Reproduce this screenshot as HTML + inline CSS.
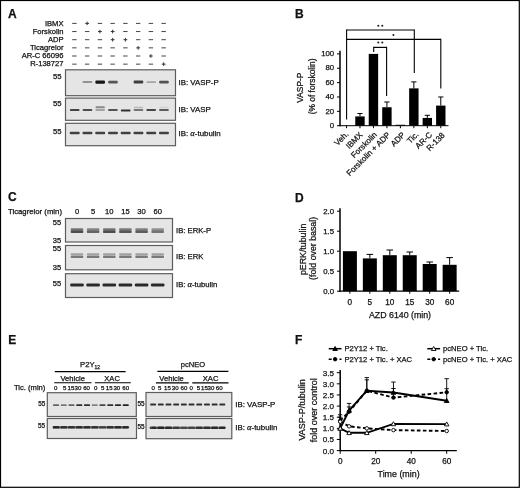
<!DOCTYPE html>
<html><head><meta charset="utf-8"><style>
html,body{margin:0;padding:0;background:#fff;}
#wrap{position:relative;width:520px;height:488px;overflow:hidden;background:#fff;}
svg{position:absolute;left:0;top:0;will-change:transform;}
svg text{font-family:"Liberation Sans", sans-serif;fill:#111;stroke:#111;stroke-width:0.25px;}
</style></head><body><div id="wrap">
<svg width="520" height="488" viewBox="0 0 520 488">
<defs><filter id="bl" x="-30%" y="-100%" width="160%" height="300%"><feGaussianBlur stdDeviation="0.7"/></filter></defs>
<rect x="0.5" y="0.5" width="518.8" height="486.8" fill="none" stroke="#000" stroke-width="1.2"/>
<text x="8" y="17.6" font-size="12" text-anchor="start" font-weight="bold" >A</text>
<text x="63.5" y="25.5" font-size="7.6" text-anchor="end" font-weight="normal" >IBMX</text>
<line x1="72.2" y1="23.4" x2="76.60000000000001" y2="23.4" stroke="#444" stroke-width="1.0" />
<line x1="85.25" y1="23.4" x2="89.05000000000001" y2="23.4" stroke="#333" stroke-width="1.0" />
<line x1="87.15" y1="21.599999999999998" x2="87.15" y2="25.2" stroke="#333" stroke-width="1.0" />
<line x1="97.7" y1="23.4" x2="102.10000000000001" y2="23.4" stroke="#444" stroke-width="1.0" />
<line x1="110.45" y1="23.4" x2="114.85000000000001" y2="23.4" stroke="#444" stroke-width="1.0" />
<line x1="123.2" y1="23.4" x2="127.60000000000001" y2="23.4" stroke="#444" stroke-width="1.0" />
<line x1="135.95000000000002" y1="23.4" x2="140.35" y2="23.4" stroke="#444" stroke-width="1.0" />
<line x1="148.70000000000002" y1="23.4" x2="153.1" y2="23.4" stroke="#444" stroke-width="1.0" />
<line x1="161.45000000000002" y1="23.4" x2="165.85" y2="23.4" stroke="#444" stroke-width="1.0" />
<text x="63.5" y="33.62" font-size="7.6" text-anchor="end" font-weight="normal" >Forskolin</text>
<line x1="72.2" y1="31.549999999999997" x2="76.60000000000001" y2="31.549999999999997" stroke="#444" stroke-width="1.0" />
<line x1="84.95" y1="31.549999999999997" x2="89.35000000000001" y2="31.549999999999997" stroke="#444" stroke-width="1.0" />
<line x1="98.0" y1="31.549999999999997" x2="101.80000000000001" y2="31.549999999999997" stroke="#333" stroke-width="1.0" />
<line x1="99.9" y1="29.749999999999996" x2="99.9" y2="33.349999999999994" stroke="#333" stroke-width="1.0" />
<line x1="110.75" y1="31.549999999999997" x2="114.55000000000001" y2="31.549999999999997" stroke="#333" stroke-width="1.0" />
<line x1="112.65" y1="29.749999999999996" x2="112.65" y2="33.349999999999994" stroke="#333" stroke-width="1.0" />
<line x1="123.2" y1="31.549999999999997" x2="127.60000000000001" y2="31.549999999999997" stroke="#444" stroke-width="1.0" />
<line x1="135.95000000000002" y1="31.549999999999997" x2="140.35" y2="31.549999999999997" stroke="#444" stroke-width="1.0" />
<line x1="148.70000000000002" y1="31.549999999999997" x2="153.1" y2="31.549999999999997" stroke="#444" stroke-width="1.0" />
<line x1="161.45000000000002" y1="31.549999999999997" x2="165.85" y2="31.549999999999997" stroke="#444" stroke-width="1.0" />
<text x="63.5" y="41.739999999999995" font-size="7.6" text-anchor="end" font-weight="normal" >ADP</text>
<line x1="72.2" y1="39.7" x2="76.60000000000001" y2="39.7" stroke="#444" stroke-width="1.0" />
<line x1="84.95" y1="39.7" x2="89.35000000000001" y2="39.7" stroke="#444" stroke-width="1.0" />
<line x1="97.7" y1="39.7" x2="102.10000000000001" y2="39.7" stroke="#444" stroke-width="1.0" />
<line x1="110.75" y1="39.7" x2="114.55000000000001" y2="39.7" stroke="#333" stroke-width="1.0" />
<line x1="112.65" y1="37.900000000000006" x2="112.65" y2="41.5" stroke="#333" stroke-width="1.0" />
<line x1="123.5" y1="39.7" x2="127.30000000000001" y2="39.7" stroke="#333" stroke-width="1.0" />
<line x1="125.4" y1="37.900000000000006" x2="125.4" y2="41.5" stroke="#333" stroke-width="1.0" />
<line x1="135.95000000000002" y1="39.7" x2="140.35" y2="39.7" stroke="#444" stroke-width="1.0" />
<line x1="148.70000000000002" y1="39.7" x2="153.1" y2="39.7" stroke="#444" stroke-width="1.0" />
<line x1="161.45000000000002" y1="39.7" x2="165.85" y2="39.7" stroke="#444" stroke-width="1.0" />
<text x="63.5" y="49.86" font-size="7.6" text-anchor="end" font-weight="normal" >Ticagrelor</text>
<line x1="72.2" y1="47.85" x2="76.60000000000001" y2="47.85" stroke="#444" stroke-width="1.0" />
<line x1="84.95" y1="47.85" x2="89.35000000000001" y2="47.85" stroke="#444" stroke-width="1.0" />
<line x1="97.7" y1="47.85" x2="102.10000000000001" y2="47.85" stroke="#444" stroke-width="1.0" />
<line x1="110.45" y1="47.85" x2="114.85000000000001" y2="47.85" stroke="#444" stroke-width="1.0" />
<line x1="123.2" y1="47.85" x2="127.60000000000001" y2="47.85" stroke="#444" stroke-width="1.0" />
<line x1="136.25" y1="47.85" x2="140.05" y2="47.85" stroke="#333" stroke-width="1.0" />
<line x1="138.15" y1="46.050000000000004" x2="138.15" y2="49.65" stroke="#333" stroke-width="1.0" />
<line x1="148.70000000000002" y1="47.85" x2="153.1" y2="47.85" stroke="#444" stroke-width="1.0" />
<line x1="161.45000000000002" y1="47.85" x2="165.85" y2="47.85" stroke="#444" stroke-width="1.0" />
<text x="63.5" y="57.98" font-size="7.6" text-anchor="end" font-weight="normal" >AR-C 66096</text>
<line x1="72.2" y1="56.0" x2="76.60000000000001" y2="56.0" stroke="#444" stroke-width="1.0" />
<line x1="84.95" y1="56.0" x2="89.35000000000001" y2="56.0" stroke="#444" stroke-width="1.0" />
<line x1="97.7" y1="56.0" x2="102.10000000000001" y2="56.0" stroke="#444" stroke-width="1.0" />
<line x1="110.45" y1="56.0" x2="114.85000000000001" y2="56.0" stroke="#444" stroke-width="1.0" />
<line x1="123.2" y1="56.0" x2="127.60000000000001" y2="56.0" stroke="#444" stroke-width="1.0" />
<line x1="135.95000000000002" y1="56.0" x2="140.35" y2="56.0" stroke="#444" stroke-width="1.0" />
<line x1="149.0" y1="56.0" x2="152.8" y2="56.0" stroke="#333" stroke-width="1.0" />
<line x1="150.9" y1="54.2" x2="150.9" y2="57.8" stroke="#333" stroke-width="1.0" />
<line x1="161.45000000000002" y1="56.0" x2="165.85" y2="56.0" stroke="#444" stroke-width="1.0" />
<text x="63.5" y="66.1" font-size="7.6" text-anchor="end" font-weight="normal" >R-138727</text>
<line x1="72.2" y1="64.15" x2="76.60000000000001" y2="64.15" stroke="#444" stroke-width="1.0" />
<line x1="84.95" y1="64.15" x2="89.35000000000001" y2="64.15" stroke="#444" stroke-width="1.0" />
<line x1="97.7" y1="64.15" x2="102.10000000000001" y2="64.15" stroke="#444" stroke-width="1.0" />
<line x1="110.45" y1="64.15" x2="114.85000000000001" y2="64.15" stroke="#444" stroke-width="1.0" />
<line x1="123.2" y1="64.15" x2="127.60000000000001" y2="64.15" stroke="#444" stroke-width="1.0" />
<line x1="135.95000000000002" y1="64.15" x2="140.35" y2="64.15" stroke="#444" stroke-width="1.0" />
<line x1="148.70000000000002" y1="64.15" x2="153.1" y2="64.15" stroke="#444" stroke-width="1.0" />
<line x1="161.75" y1="64.15" x2="165.55" y2="64.15" stroke="#333" stroke-width="1.0" />
<line x1="163.65" y1="62.35000000000001" x2="163.65" y2="65.95" stroke="#333" stroke-width="1.0" />
<rect x="65.50" y="69.80" width="110.00" height="25.90" fill="#e5e5e5" stroke="#5c5c5c" stroke-width="1.2"/>
<rect x="65.50" y="98.10" width="110.00" height="22.20" fill="#e5e5e5" stroke="#5c5c5c" stroke-width="1.2"/>
<rect x="65.50" y="123.30" width="110.00" height="22.40" fill="#e5e5e5" stroke="#5c5c5c" stroke-width="1.2"/>
<rect x="82.65" y="81.10" width="9.60" height="2.00" rx="0.67" fill="#151515" opacity="0.3916" filter="url(#bl)"/>
<rect x="95.40" y="80.40" width="9.60" height="3.40" rx="1.13" fill="#151515" opacity="1.0" filter="url(#bl)"/>
<rect x="108.15" y="80.76" width="9.60" height="2.68" rx="0.89" fill="#151515" opacity="0.688" filter="url(#bl)"/>
<rect x="133.65" y="80.62" width="9.60" height="2.95" rx="0.98" fill="#151515" opacity="0.8049999999999999" filter="url(#bl)"/>
<rect x="146.40" y="81.21" width="9.60" height="1.78" rx="0.59" fill="#151515" opacity="0.29800000000000004" filter="url(#bl)"/>
<rect x="159.15" y="80.74" width="9.60" height="2.72" rx="0.91" fill="#151515" opacity="0.7036" filter="url(#bl)"/>
<rect x="69.90" y="108.90" width="9.60" height="2.20" rx="0.73" fill="#1e1e1e" opacity="0.8" filter="url(#bl)"/>
<rect x="82.65" y="108.90" width="9.60" height="2.20" rx="0.73" fill="#1e1e1e" opacity="0.75" filter="url(#bl)"/>
<rect x="95.40" y="108.90" width="9.60" height="2.20" rx="0.73" fill="#1e1e1e" opacity="0.32" filter="url(#bl)"/>
<rect x="108.15" y="108.90" width="9.60" height="2.20" rx="0.73" fill="#1e1e1e" opacity="0.72" filter="url(#bl)"/>
<rect x="120.90" y="109.40" width="9.60" height="2.20" rx="0.73" fill="#1e1e1e" opacity="0.9" filter="url(#bl)"/>
<rect x="133.65" y="108.90" width="9.60" height="2.20" rx="0.73" fill="#1e1e1e" opacity="0.55" filter="url(#bl)"/>
<rect x="146.40" y="108.90" width="9.60" height="2.20" rx="0.73" fill="#1e1e1e" opacity="0.78" filter="url(#bl)"/>
<rect x="159.15" y="108.90" width="9.60" height="2.20" rx="0.73" fill="#1e1e1e" opacity="0.68" filter="url(#bl)"/>
<rect x="95.60" y="106.35" width="9.20" height="1.90" rx="0.63" fill="#333" opacity="0.5" filter="url(#bl)"/>
<rect x="133.85" y="106.65" width="9.20" height="1.70" rx="0.57" fill="#555" opacity="0.3" filter="url(#bl)"/>
<rect x="159.35" y="106.85" width="9.20" height="1.50" rx="0.50" fill="#777" opacity="0.18" filter="url(#bl)"/>
<rect x="69.80" y="131.80" width="9.80" height="2.40" rx="0.80" fill="#1a1a1a" opacity="0.82" filter="url(#bl)"/>
<rect x="82.55" y="131.80" width="9.80" height="2.40" rx="0.80" fill="#1a1a1a" opacity="0.82" filter="url(#bl)"/>
<rect x="95.30" y="131.80" width="9.80" height="2.40" rx="0.80" fill="#1a1a1a" opacity="0.82" filter="url(#bl)"/>
<rect x="108.05" y="131.80" width="9.80" height="2.40" rx="0.80" fill="#1a1a1a" opacity="0.82" filter="url(#bl)"/>
<rect x="120.80" y="131.80" width="9.80" height="2.40" rx="0.80" fill="#1a1a1a" opacity="0.82" filter="url(#bl)"/>
<rect x="133.55" y="131.80" width="9.80" height="2.40" rx="0.80" fill="#1a1a1a" opacity="0.82" filter="url(#bl)"/>
<rect x="146.30" y="131.80" width="9.80" height="2.40" rx="0.80" fill="#1a1a1a" opacity="0.82" filter="url(#bl)"/>
<rect x="159.05" y="131.80" width="9.80" height="2.40" rx="0.80" fill="#1a1a1a" opacity="0.82" filter="url(#bl)"/>
<text x="61.6" y="78.6" font-size="7.7" text-anchor="end" font-weight="normal" >55</text>
<text x="61.6" y="105.8" font-size="7.7" text-anchor="end" font-weight="normal" >55</text>
<text x="61.6" y="134.0" font-size="7.7" text-anchor="end" font-weight="normal" >55</text>
<text x="178.5" y="85.3" font-size="7.9" text-anchor="start" font-weight="normal" >IB: VASP-P</text>
<text x="178.5" y="111.6" font-size="7.9" text-anchor="start" font-weight="normal" >IB: VASP</text>
<text x="178.5" y="135.8" font-size="7.9" text-anchor="start" font-weight="normal" >IB: <tspan font-family="Liberation Serif" font-style="italic" font-size="8.6">α</tspan>-tubulin</text>
<text x="295" y="17.7" font-size="12" text-anchor="start" font-weight="bold" >B</text>
<line x1="340" y1="50.8" x2="340" y2="126.2" stroke="#000" stroke-width="1.5" />
<line x1="339.5" y1="125.7" x2="448.5" y2="125.7" stroke="#000" stroke-width="1" />
<line x1="337" y1="125.7" x2="340" y2="125.7" stroke="#000" stroke-width="1" />
<text x="334.2" y="127.9" font-size="7.8" text-anchor="end" font-weight="normal" >0</text>
<line x1="337" y1="111.34" x2="340" y2="111.34" stroke="#000" stroke-width="1" />
<text x="334.2" y="113.54" font-size="7.8" text-anchor="end" font-weight="normal" >20</text>
<line x1="337" y1="96.97999999999999" x2="340" y2="96.97999999999999" stroke="#000" stroke-width="1" />
<text x="334.2" y="99.17999999999999" font-size="7.8" text-anchor="end" font-weight="normal" >40</text>
<line x1="337" y1="82.61999999999999" x2="340" y2="82.61999999999999" stroke="#000" stroke-width="1" />
<text x="334.2" y="84.82" font-size="7.8" text-anchor="end" font-weight="normal" >60</text>
<line x1="337" y1="68.25999999999999" x2="340" y2="68.25999999999999" stroke="#000" stroke-width="1" />
<text x="334.2" y="70.46" font-size="7.8" text-anchor="end" font-weight="normal" >80</text>
<line x1="337" y1="53.89999999999999" x2="340" y2="53.89999999999999" stroke="#000" stroke-width="1" />
<text x="334.2" y="56.099999999999994" font-size="7.8" text-anchor="end" font-weight="normal" >100</text>
<line x1="346.5" y1="125.7" x2="346.5" y2="128.2" stroke="#000" stroke-width="1" />
<line x1="359.97" y1="125.7" x2="359.97" y2="128.2" stroke="#000" stroke-width="1" />
<rect x="355.27000000000004" y="116.4378" width="9.4" height="9.262200000000007" fill="#000" />
<line x1="359.97" y1="113.494" x2="359.97" y2="116.4378" stroke="#000" stroke-width="1" />
<line x1="357.37" y1="113.494" x2="362.57000000000005" y2="113.494" stroke="#000" stroke-width="1" />
<line x1="373.44" y1="125.7" x2="373.44" y2="128.2" stroke="#000" stroke-width="1" />
<rect x="368.74" y="53.89999999999999" width="9.4" height="71.80000000000001" fill="#000" />
<line x1="386.91" y1="125.7" x2="386.91" y2="128.2" stroke="#000" stroke-width="1" />
<rect x="382.21000000000004" y="107.2474" width="9.4" height="18.452600000000004" fill="#000" />
<line x1="386.91" y1="102.006" x2="386.91" y2="107.2474" stroke="#000" stroke-width="1" />
<line x1="384.31" y1="102.006" x2="389.51000000000005" y2="102.006" stroke="#000" stroke-width="1" />
<line x1="400.38" y1="125.7" x2="400.38" y2="128.2" stroke="#000" stroke-width="1" />
<rect x="395.68" y="124.7666" width="9.4" height="0.933400000000006" fill="#000" />
<line x1="413.85" y1="125.7" x2="413.85" y2="128.2" stroke="#000" stroke-width="1" />
<rect x="409.15000000000003" y="88.364" width="9.4" height="37.336" fill="#000" />
<line x1="413.85" y1="81.90199999999999" x2="413.85" y2="88.364" stroke="#000" stroke-width="1" />
<line x1="411.25" y1="81.90199999999999" x2="416.45000000000005" y2="81.90199999999999" stroke="#000" stroke-width="1" />
<line x1="427.32" y1="125.7" x2="427.32" y2="128.2" stroke="#000" stroke-width="1" />
<rect x="422.62" y="117.9456" width="9.4" height="7.754400000000004" fill="#000" />
<line x1="427.32" y1="115.289" x2="427.32" y2="117.9456" stroke="#000" stroke-width="1" />
<line x1="424.71999999999997" y1="115.289" x2="429.92" y2="115.289" stroke="#000" stroke-width="1" />
<line x1="440.79" y1="125.7" x2="440.79" y2="128.2" stroke="#000" stroke-width="1" />
<rect x="436.09000000000003" y="105.596" width="9.4" height="20.104" fill="#000" />
<line x1="440.79" y1="96.97999999999999" x2="440.79" y2="105.596" stroke="#000" stroke-width="1" />
<line x1="438.19" y1="96.97999999999999" x2="443.39000000000004" y2="96.97999999999999" stroke="#000" stroke-width="1" />
<text x="349.0" y="134.70000000000002" font-size="8.1" text-anchor="end" font-weight="normal" transform="rotate(-45 349.00 134.70)">Veh.</text>
<text x="363.17" y="135.3" font-size="8.1" text-anchor="end" font-weight="normal" transform="rotate(-45 363.17 135.30)">IBMX</text>
<text x="377.44" y="135.3" font-size="8.1" text-anchor="end" font-weight="normal" transform="rotate(-45 377.44 135.30)">Forskolin</text>
<text x="390.91" y="135.3" font-size="8.1" text-anchor="end" font-weight="normal" transform="rotate(-45 390.91 135.30)">Forskolin + ADP</text>
<text x="405.68" y="135.3" font-size="8.1" text-anchor="end" font-weight="normal" transform="rotate(-45 405.68 135.30)">ADP</text>
<text x="419.15000000000003" y="135.0" font-size="8.1" text-anchor="end" font-weight="normal" transform="rotate(-45 419.15 135.00)">Tic.</text>
<text x="432.62" y="135.3" font-size="8.1" text-anchor="end" font-weight="normal" transform="rotate(-45 432.62 135.30)">AR-C</text>
<text x="445.29" y="135.8" font-size="8.1" text-anchor="end" font-weight="normal" transform="rotate(-45 445.29 135.80)">R-138</text>
<line x1="346.6" y1="30" x2="414.3" y2="30" stroke="#000" stroke-width="1.2" />
<line x1="346.6" y1="29.4" x2="346.6" y2="119.5" stroke="#000" stroke-width="1.1" />
<line x1="414.3" y1="29.4" x2="414.3" y2="73" stroke="#000" stroke-width="1.1" />
<line x1="346.6" y1="39.4" x2="440.8" y2="39.4" stroke="#000" stroke-width="1.2" />
<line x1="440.8" y1="38.8" x2="440.8" y2="88.4" stroke="#000" stroke-width="1.1" />
<line x1="373.7" y1="47.4" x2="386.6" y2="47.4" stroke="#000" stroke-width="1.2" />
<line x1="373.7" y1="46.8" x2="373.7" y2="52" stroke="#000" stroke-width="1.1" />
<line x1="386.6" y1="46.8" x2="386.6" y2="96" stroke="#000" stroke-width="1.1" />
<circle cx="378.3" cy="25.8" r="1.05" fill="#222"/>
<circle cx="382.3" cy="25.8" r="1.05" fill="#222"/>
<circle cx="393.4" cy="35.0" r="1.05" fill="#222"/>
<circle cx="378.3" cy="42.5" r="1.05" fill="#222"/>
<circle cx="382.3" cy="42.5" r="1.05" fill="#222"/>
<text x="0" y="0" font-size="8.4" text-anchor="middle" font-weight="normal" transform="translate(302.6 87.7) rotate(-90)">VASP-P</text>
<text x="0" y="0" font-size="8.4" text-anchor="middle" font-weight="normal" transform="translate(314.8 86.4) rotate(-90)">(% of forskolin)</text>
<text x="8" y="201.3" font-size="12" text-anchor="start" font-weight="bold" >C</text>
<text x="8" y="213.8" font-size="7.75" text-anchor="start" font-weight="normal" >Ticagrelor (min)</text>
<text x="77" y="213.8" font-size="7.6" text-anchor="middle" font-weight="normal" >0</text>
<text x="93.1" y="213.8" font-size="7.6" text-anchor="middle" font-weight="normal" >5</text>
<text x="109.3" y="213.8" font-size="7.6" text-anchor="middle" font-weight="normal" >10</text>
<text x="125.4" y="213.8" font-size="7.6" text-anchor="middle" font-weight="normal" >15</text>
<text x="141.6" y="213.8" font-size="7.6" text-anchor="middle" font-weight="normal" >30</text>
<text x="157.7" y="213.8" font-size="7.6" text-anchor="middle" font-weight="normal" >60</text>
<rect x="65.50" y="218.50" width="107.00" height="23.50" fill="#e5e5e5" stroke="#5c5c5c" stroke-width="1.2"/>
<rect x="65.50" y="245.50" width="107.00" height="24.30" fill="#e5e5e5" stroke="#5c5c5c" stroke-width="1.2"/>
<rect x="65.50" y="273.70" width="107.00" height="23.80" fill="#e5e5e5" stroke="#5c5c5c" stroke-width="1.2"/>
<rect x="70.70" y="228.20" width="12.60" height="2.80" rx="0.93" fill="#5a5a5a" opacity="0.8075" filter="url(#bl)"/>
<rect x="70.70" y="230.70" width="12.60" height="2.40" rx="0.80" fill="#2a2a2a" opacity="0.8075" filter="url(#bl)"/>
<rect x="70.70" y="253.20" width="12.60" height="2.40" rx="0.80" fill="#8a8a8a" opacity="0.75" filter="url(#bl)"/>
<rect x="70.70" y="255.75" width="12.60" height="2.30" rx="0.77" fill="#555" opacity="0.75" filter="url(#bl)"/>
<rect x="70.25" y="283.50" width="13.50" height="3.00" rx="1.00" fill="#151515" opacity="0.9" filter="url(#bl)"/>
<rect x="86.80" y="228.20" width="12.60" height="2.80" rx="0.93" fill="#5a5a5a" opacity="0.68" filter="url(#bl)"/>
<rect x="86.80" y="230.70" width="12.60" height="2.40" rx="0.80" fill="#2a2a2a" opacity="0.68" filter="url(#bl)"/>
<rect x="86.80" y="253.20" width="12.60" height="2.40" rx="0.80" fill="#8a8a8a" opacity="0.75" filter="url(#bl)"/>
<rect x="86.80" y="255.75" width="12.60" height="2.30" rx="0.77" fill="#555" opacity="0.75" filter="url(#bl)"/>
<rect x="86.35" y="283.50" width="13.50" height="3.00" rx="1.00" fill="#151515" opacity="0.9" filter="url(#bl)"/>
<rect x="103.00" y="228.20" width="12.60" height="2.80" rx="0.93" fill="#5a5a5a" opacity="0.8075" filter="url(#bl)"/>
<rect x="103.00" y="230.70" width="12.60" height="2.40" rx="0.80" fill="#2a2a2a" opacity="0.8075" filter="url(#bl)"/>
<rect x="103.00" y="253.20" width="12.60" height="2.40" rx="0.80" fill="#8a8a8a" opacity="0.75" filter="url(#bl)"/>
<rect x="103.00" y="255.75" width="12.60" height="2.30" rx="0.77" fill="#555" opacity="0.75" filter="url(#bl)"/>
<rect x="102.55" y="283.50" width="13.50" height="3.00" rx="1.00" fill="#151515" opacity="0.9" filter="url(#bl)"/>
<rect x="119.10" y="228.20" width="12.60" height="2.80" rx="0.93" fill="#5a5a5a" opacity="0.765" filter="url(#bl)"/>
<rect x="119.10" y="230.70" width="12.60" height="2.40" rx="0.80" fill="#2a2a2a" opacity="0.765" filter="url(#bl)"/>
<rect x="119.10" y="253.20" width="12.60" height="2.40" rx="0.80" fill="#8a8a8a" opacity="0.75" filter="url(#bl)"/>
<rect x="119.10" y="255.75" width="12.60" height="2.30" rx="0.77" fill="#555" opacity="0.75" filter="url(#bl)"/>
<rect x="118.65" y="283.50" width="13.50" height="3.00" rx="1.00" fill="#151515" opacity="0.9" filter="url(#bl)"/>
<rect x="135.30" y="228.20" width="12.60" height="2.80" rx="0.93" fill="#5a5a5a" opacity="0.7224999999999999" filter="url(#bl)"/>
<rect x="135.30" y="230.70" width="12.60" height="2.40" rx="0.80" fill="#2a2a2a" opacity="0.7224999999999999" filter="url(#bl)"/>
<rect x="135.30" y="253.20" width="12.60" height="2.40" rx="0.80" fill="#8a8a8a" opacity="0.75" filter="url(#bl)"/>
<rect x="135.30" y="255.75" width="12.60" height="2.30" rx="0.77" fill="#555" opacity="0.75" filter="url(#bl)"/>
<rect x="134.85" y="283.50" width="13.50" height="3.00" rx="1.00" fill="#151515" opacity="0.9" filter="url(#bl)"/>
<rect x="151.40" y="228.20" width="12.60" height="2.80" rx="0.93" fill="#5a5a5a" opacity="0.595" filter="url(#bl)"/>
<rect x="151.40" y="230.70" width="12.60" height="2.40" rx="0.80" fill="#2a2a2a" opacity="0.595" filter="url(#bl)"/>
<rect x="151.40" y="253.20" width="12.60" height="2.40" rx="0.80" fill="#8a8a8a" opacity="0.75" filter="url(#bl)"/>
<rect x="151.40" y="255.75" width="12.60" height="2.30" rx="0.77" fill="#555" opacity="0.75" filter="url(#bl)"/>
<rect x="150.95" y="283.50" width="13.50" height="3.00" rx="1.00" fill="#151515" opacity="0.9" filter="url(#bl)"/>
<text x="61.2" y="225" font-size="7.6" text-anchor="end" font-weight="normal" >55</text>
<text x="61.2" y="242.6" font-size="7.6" text-anchor="end" font-weight="normal" >35</text>
<text x="61.2" y="251" font-size="7.6" text-anchor="end" font-weight="normal" >55</text>
<text x="61.2" y="270" font-size="7.6" text-anchor="end" font-weight="normal" >35</text>
<text x="61.2" y="286" font-size="7.6" text-anchor="end" font-weight="normal" >55</text>
<text x="176" y="233" font-size="7.7" text-anchor="start" font-weight="normal" >IB: ERK-P</text>
<text x="176" y="258.8" font-size="7.7" text-anchor="start" font-weight="normal" >IB: ERK</text>
<text x="176" y="287.0" font-size="7.7" text-anchor="start" font-weight="normal" >IB: <tspan font-family="Liberation Serif" font-style="italic" font-size="8.6">α</tspan>-tubulin</text>
<text x="295" y="201.7" font-size="12" text-anchor="start" font-weight="bold" >D</text>
<line x1="340" y1="208.2" x2="340" y2="291.7" stroke="#000" stroke-width="1.5" />
<line x1="339.4" y1="291.2" x2="459.2" y2="291.2" stroke="#000" stroke-width="1.3" />
<line x1="337" y1="291.2" x2="340" y2="291.2" stroke="#000" stroke-width="1" />
<text x="334.1" y="294.0" font-size="7.8" text-anchor="end" font-weight="normal" >0.0</text>
<line x1="337" y1="271.2" x2="340" y2="271.2" stroke="#000" stroke-width="1" />
<text x="334.1" y="274.0" font-size="7.8" text-anchor="end" font-weight="normal" >0.5</text>
<line x1="337" y1="251.2" x2="340" y2="251.2" stroke="#000" stroke-width="1" />
<text x="334.1" y="254.0" font-size="7.8" text-anchor="end" font-weight="normal" >1.0</text>
<line x1="337" y1="231.2" x2="340" y2="231.2" stroke="#000" stroke-width="1" />
<text x="334.1" y="234.0" font-size="7.8" text-anchor="end" font-weight="normal" >1.5</text>
<line x1="337" y1="211.2" x2="340" y2="211.2" stroke="#000" stroke-width="1" />
<text x="334.1" y="214.0" font-size="7.8" text-anchor="end" font-weight="normal" >2.0</text>
<rect x="342.9" y="251.2" width="14" height="40.0" fill="#000" />
<line x1="349.9" y1="291.2" x2="349.9" y2="293.7" stroke="#000" stroke-width="1" />
<text x="349.9" y="304.7" font-size="8.2" text-anchor="middle" font-weight="normal" >0</text>
<rect x="362.84999999999997" y="258.4" width="14" height="32.80000000000001" fill="#000" />
<line x1="369.84999999999997" y1="291.2" x2="369.84999999999997" y2="293.7" stroke="#000" stroke-width="1" />
<line x1="369.84999999999997" y1="254.39999999999998" x2="369.84999999999997" y2="258.4" stroke="#000" stroke-width="1" />
<line x1="366.54999999999995" y1="254.39999999999998" x2="373.15" y2="254.39999999999998" stroke="#000" stroke-width="1" />
<text x="369.84999999999997" y="304.7" font-size="8.2" text-anchor="middle" font-weight="normal" >5</text>
<rect x="382.79999999999995" y="255.2" width="14" height="36.0" fill="#000" />
<line x1="389.79999999999995" y1="291.2" x2="389.79999999999995" y2="293.7" stroke="#000" stroke-width="1" />
<line x1="389.79999999999995" y1="250.0" x2="389.79999999999995" y2="255.2" stroke="#000" stroke-width="1" />
<line x1="386.49999999999994" y1="250.0" x2="393.09999999999997" y2="250.0" stroke="#000" stroke-width="1" />
<text x="389.79999999999995" y="304.7" font-size="8.2" text-anchor="middle" font-weight="normal" >10</text>
<rect x="402.75" y="255.2" width="14" height="36.0" fill="#000" />
<line x1="409.75" y1="291.2" x2="409.75" y2="293.7" stroke="#000" stroke-width="1" />
<line x1="409.75" y1="252.0" x2="409.75" y2="255.2" stroke="#000" stroke-width="1" />
<line x1="406.45" y1="252.0" x2="413.05" y2="252.0" stroke="#000" stroke-width="1" />
<text x="409.75" y="304.7" font-size="8.2" text-anchor="middle" font-weight="normal" >15</text>
<rect x="422.7" y="264.0" width="14" height="27.19999999999999" fill="#000" />
<line x1="429.7" y1="291.2" x2="429.7" y2="293.7" stroke="#000" stroke-width="1" />
<line x1="429.7" y1="262.0" x2="429.7" y2="264.0" stroke="#000" stroke-width="1" />
<line x1="426.4" y1="262.0" x2="433.0" y2="262.0" stroke="#000" stroke-width="1" />
<text x="429.7" y="304.7" font-size="8.2" text-anchor="middle" font-weight="normal" >30</text>
<rect x="442.65" y="264.8" width="14" height="26.399999999999977" fill="#000" />
<line x1="449.65" y1="291.2" x2="449.65" y2="293.7" stroke="#000" stroke-width="1" />
<line x1="449.65" y1="257.59999999999997" x2="449.65" y2="264.8" stroke="#000" stroke-width="1" />
<line x1="446.34999999999997" y1="257.59999999999997" x2="452.95" y2="257.59999999999997" stroke="#000" stroke-width="1" />
<text x="449.65" y="304.7" font-size="8.2" text-anchor="middle" font-weight="normal" >60</text>
<text x="400" y="318.1" font-size="8.8" text-anchor="middle" font-weight="normal" >AZD 6140 (min)</text>
<text x="0" y="0" font-size="8.8" text-anchor="middle" font-weight="normal" transform="translate(305.7 249.4) rotate(-90)">pERK/tubulin</text>
<text x="0" y="0" font-size="8.8" text-anchor="middle" font-weight="normal" transform="translate(315.8 248.4) rotate(-90)">(fold over basal)</text>
<text x="8.2" y="343.6" font-size="12" text-anchor="start" font-weight="bold" >E</text>
<text x="80" y="366.8" font-size="7.7" text-anchor="start" font-weight="normal" >P2Y<tspan font-size="5" dy="2.6">12</tspan></text>
<line x1="54.8" y1="371.6" x2="125.6" y2="371.6" stroke="#000" stroke-width="1.15" />
<text x="72.7" y="380.8" font-size="7.6" text-anchor="middle" font-weight="normal" >Vehicle</text>
<line x1="54.2" y1="382.7" x2="91.5" y2="382.7" stroke="#000" stroke-width="1.15" />
<text x="112.1" y="380.8" font-size="7.6" text-anchor="middle" font-weight="normal" >XAC</text>
<line x1="95.0" y1="382.7" x2="130.8" y2="382.7" stroke="#000" stroke-width="1.15" />
<text x="14" y="389.8" font-size="7.6" text-anchor="start" font-weight="normal" >Tic. (min)</text>
<text x="55.6" y="390.4" font-size="6.1" text-anchor="middle" font-weight="normal" >0</text>
<text x="64.8" y="390.4" font-size="6.1" text-anchor="middle" font-weight="normal" >5</text>
<text x="71.0" y="390.4" font-size="6.1" text-anchor="middle" font-weight="normal" >15</text>
<text x="78.0" y="390.4" font-size="6.1" text-anchor="middle" font-weight="normal" >30</text>
<text x="86.6" y="390.4" font-size="6.1" text-anchor="middle" font-weight="normal" >60</text>
<text x="95.6" y="390.4" font-size="6.1" text-anchor="middle" font-weight="normal" >0</text>
<text x="102.6" y="390.4" font-size="6.1" text-anchor="middle" font-weight="normal" >5</text>
<text x="109.2" y="390.4" font-size="6.1" text-anchor="middle" font-weight="normal" >15</text>
<text x="116.8" y="390.4" font-size="6.1" text-anchor="middle" font-weight="normal" >30</text>
<text x="125.7" y="390.4" font-size="6.1" text-anchor="middle" font-weight="normal" >60</text>
<rect x="47.30" y="392.70" width="89.00" height="23.80" fill="#e5e5e5" stroke="#5c5c5c" stroke-width="1.2"/>
<rect x="47.30" y="418.50" width="89.20" height="20.00" fill="#e5e5e5" stroke="#5c5c5c" stroke-width="1.2"/>
<rect x="53.00" y="404.15" width="6.00" height="1.90" rx="0.63" fill="#111" opacity="0.6" filter="url(#bl)"/>
<rect x="60.75" y="404.15" width="6.00" height="1.90" rx="0.63" fill="#111" opacity="0.5" filter="url(#bl)"/>
<rect x="68.50" y="404.15" width="6.00" height="1.90" rx="0.63" fill="#111" opacity="0.6" filter="url(#bl)"/>
<rect x="76.25" y="404.15" width="6.00" height="1.90" rx="0.63" fill="#111" opacity="0.85" filter="url(#bl)"/>
<rect x="84.00" y="404.15" width="6.00" height="1.90" rx="0.63" fill="#111" opacity="0.85" filter="url(#bl)"/>
<rect x="91.75" y="404.15" width="6.00" height="1.90" rx="0.63" fill="#111" opacity="0.45" filter="url(#bl)"/>
<rect x="99.50" y="404.15" width="6.00" height="1.90" rx="0.63" fill="#111" opacity="0.75" filter="url(#bl)"/>
<rect x="107.25" y="404.15" width="6.00" height="1.90" rx="0.63" fill="#111" opacity="0.85" filter="url(#bl)"/>
<rect x="115.00" y="404.15" width="6.00" height="1.90" rx="0.63" fill="#111" opacity="0.9" filter="url(#bl)"/>
<rect x="122.75" y="404.15" width="6.00" height="1.90" rx="0.63" fill="#111" opacity="0.9" filter="url(#bl)"/>
<rect x="53.00" y="426.15" width="75.00" height="2.30" rx="0.77" fill="#151515" opacity="0.6" filter="url(#bl)"/>
<rect x="52.70" y="426.00" width="6.60" height="2.60" rx="0.87" fill="#151515" opacity="0.8" filter="url(#bl)"/>
<rect x="60.45" y="426.00" width="6.60" height="2.60" rx="0.87" fill="#151515" opacity="0.7" filter="url(#bl)"/>
<rect x="68.20" y="426.00" width="6.60" height="2.60" rx="0.87" fill="#151515" opacity="0.7" filter="url(#bl)"/>
<rect x="75.95" y="426.00" width="6.60" height="2.60" rx="0.87" fill="#151515" opacity="0.75" filter="url(#bl)"/>
<rect x="83.70" y="426.00" width="6.60" height="2.60" rx="0.87" fill="#151515" opacity="0.75" filter="url(#bl)"/>
<rect x="91.45" y="426.00" width="6.60" height="2.60" rx="0.87" fill="#151515" opacity="0.7" filter="url(#bl)"/>
<rect x="99.20" y="426.00" width="6.60" height="2.60" rx="0.87" fill="#151515" opacity="0.5" filter="url(#bl)"/>
<rect x="106.95" y="426.00" width="6.60" height="2.60" rx="0.87" fill="#151515" opacity="0.7" filter="url(#bl)"/>
<rect x="114.70" y="426.00" width="6.60" height="2.60" rx="0.87" fill="#151515" opacity="0.8" filter="url(#bl)"/>
<rect x="122.45" y="426.00" width="6.60" height="2.60" rx="0.87" fill="#151515" opacity="0.8" filter="url(#bl)"/>
<text x="45.3" y="405.8" font-size="6.4" text-anchor="end" font-weight="normal" >55</text>
<text x="45.1" y="428" font-size="6.4" text-anchor="end" font-weight="normal" >55</text>
<text x="193" y="366.9" font-size="7.6" text-anchor="middle" font-weight="normal" >pcNEO</text>
<line x1="157.4" y1="371.4" x2="228.4" y2="371.4" stroke="#000" stroke-width="1.15" />
<text x="171.6" y="380.8" font-size="7.6" text-anchor="middle" font-weight="normal" >Vehicle</text>
<line x1="156.0" y1="382.8" x2="188.7" y2="382.8" stroke="#000" stroke-width="1.15" />
<text x="210.6" y="380.8" font-size="7.6" text-anchor="middle" font-weight="normal" >XAC</text>
<line x1="192.3" y1="382.8" x2="228.5" y2="382.8" stroke="#000" stroke-width="1.15" />
<text x="153.2" y="390.4" font-size="6.1" text-anchor="middle" font-weight="normal" >0</text>
<text x="159.7" y="390.4" font-size="6.1" text-anchor="middle" font-weight="normal" >5</text>
<text x="167.4" y="390.4" font-size="6.1" text-anchor="middle" font-weight="normal" >15</text>
<text x="175.2" y="390.4" font-size="6.1" text-anchor="middle" font-weight="normal" >30</text>
<text x="183.9" y="390.4" font-size="6.1" text-anchor="middle" font-weight="normal" >60</text>
<text x="191.2" y="390.4" font-size="6.1" text-anchor="middle" font-weight="normal" >0</text>
<text x="198.5" y="390.4" font-size="6.1" text-anchor="middle" font-weight="normal" >5</text>
<text x="204.5" y="390.4" font-size="6.1" text-anchor="middle" font-weight="normal" >15</text>
<text x="211.0" y="390.4" font-size="6.1" text-anchor="middle" font-weight="normal" >30</text>
<text x="219.2" y="390.4" font-size="6.1" text-anchor="middle" font-weight="normal" >60</text>
<rect x="146.00" y="392.50" width="85.80" height="24.00" fill="#e5e5e5" stroke="#5c5c5c" stroke-width="1.2"/>
<rect x="146.00" y="418.50" width="85.80" height="20.20" fill="#e5e5e5" stroke="#5c5c5c" stroke-width="1.2"/>
<rect x="150.20" y="403.60" width="5.80" height="2.00" rx="0.67" fill="#111" opacity="0.85" filter="url(#bl)"/>
<rect x="157.89" y="403.60" width="5.80" height="2.00" rx="0.67" fill="#111" opacity="0.85" filter="url(#bl)"/>
<rect x="165.58" y="403.60" width="5.80" height="2.00" rx="0.67" fill="#111" opacity="0.85" filter="url(#bl)"/>
<rect x="173.27" y="403.60" width="5.80" height="2.00" rx="0.67" fill="#111" opacity="0.85" filter="url(#bl)"/>
<rect x="180.96" y="403.60" width="5.80" height="2.00" rx="0.67" fill="#111" opacity="0.85" filter="url(#bl)"/>
<rect x="188.65" y="403.60" width="5.80" height="2.00" rx="0.67" fill="#111" opacity="0.85" filter="url(#bl)"/>
<rect x="196.34" y="403.60" width="5.80" height="2.00" rx="0.67" fill="#111" opacity="0.85" filter="url(#bl)"/>
<rect x="204.03" y="403.60" width="5.80" height="2.00" rx="0.67" fill="#111" opacity="0.85" filter="url(#bl)"/>
<rect x="211.72" y="403.60" width="5.80" height="2.00" rx="0.67" fill="#111" opacity="0.85" filter="url(#bl)"/>
<rect x="219.41" y="403.60" width="5.80" height="2.00" rx="0.67" fill="#111" opacity="0.85" filter="url(#bl)"/>
<rect x="152.00" y="426.65" width="73.00" height="2.30" rx="0.77" fill="#151515" opacity="0.55" filter="url(#bl)"/>
<rect x="149.80" y="426.50" width="6.60" height="2.60" rx="0.87" fill="#151515" opacity="0.8" filter="url(#bl)"/>
<rect x="157.49" y="426.50" width="6.60" height="2.60" rx="0.87" fill="#151515" opacity="0.85" filter="url(#bl)"/>
<rect x="165.18" y="426.50" width="6.60" height="2.60" rx="0.87" fill="#151515" opacity="0.8" filter="url(#bl)"/>
<rect x="172.87" y="426.50" width="6.60" height="2.60" rx="0.87" fill="#151515" opacity="0.6" filter="url(#bl)"/>
<rect x="180.56" y="426.50" width="6.60" height="2.60" rx="0.87" fill="#151515" opacity="0.45" filter="url(#bl)"/>
<rect x="188.25" y="426.50" width="6.60" height="2.60" rx="0.87" fill="#151515" opacity="0.5" filter="url(#bl)"/>
<rect x="195.94" y="426.50" width="6.60" height="2.60" rx="0.87" fill="#151515" opacity="0.7" filter="url(#bl)"/>
<rect x="203.63" y="426.50" width="6.60" height="2.60" rx="0.87" fill="#151515" opacity="0.75" filter="url(#bl)"/>
<rect x="211.32" y="426.50" width="6.60" height="2.60" rx="0.87" fill="#151515" opacity="0.8" filter="url(#bl)"/>
<rect x="219.01" y="426.50" width="6.60" height="2.60" rx="0.87" fill="#151515" opacity="0.8" filter="url(#bl)"/>
<text x="144.6" y="406.1" font-size="6.4" text-anchor="end" font-weight="normal" >55</text>
<text x="144.6" y="429.4" font-size="6.4" text-anchor="end" font-weight="normal" >55</text>
<text x="235.2" y="407.4" font-size="7.9" text-anchor="start" font-weight="normal" >IB: VASP-P</text>
<text x="235.2" y="430.2" font-size="7.9" text-anchor="start" font-weight="normal" >IB: <tspan font-family="Liberation Serif" font-style="italic" font-size="8.6">α</tspan>-tubulin</text>
<text x="295" y="344.2" font-size="12" text-anchor="start" font-weight="bold" >F</text>
<line x1="340.2" y1="369.89" x2="340.2" y2="451.1" stroke="#000" stroke-width="1.5" />
<line x1="339.7" y1="450.6" x2="456.8" y2="450.6" stroke="#000" stroke-width="1.4" />
<line x1="336.8" y1="450.6" x2="340.2" y2="450.6" stroke="#000" stroke-width="1" />
<text x="334.1" y="453.5" font-size="8.1" text-anchor="end" font-weight="normal" >0.0</text>
<line x1="336.8" y1="439.47" x2="340.2" y2="439.47" stroke="#000" stroke-width="1" />
<text x="334.1" y="442.37" font-size="8.1" text-anchor="end" font-weight="normal" >0.5</text>
<line x1="336.8" y1="428.34000000000003" x2="340.2" y2="428.34000000000003" stroke="#000" stroke-width="1" />
<text x="334.1" y="431.24" font-size="8.1" text-anchor="end" font-weight="normal" >1.0</text>
<line x1="336.8" y1="417.21000000000004" x2="340.2" y2="417.21000000000004" stroke="#000" stroke-width="1" />
<text x="334.1" y="420.11" font-size="8.1" text-anchor="end" font-weight="normal" >1.5</text>
<line x1="336.8" y1="406.08000000000004" x2="340.2" y2="406.08000000000004" stroke="#000" stroke-width="1" />
<text x="334.1" y="408.98" font-size="8.1" text-anchor="end" font-weight="normal" >2.0</text>
<line x1="336.8" y1="394.95000000000005" x2="340.2" y2="394.95000000000005" stroke="#000" stroke-width="1" />
<text x="334.1" y="397.85" font-size="8.1" text-anchor="end" font-weight="normal" >2.5</text>
<line x1="336.8" y1="383.82000000000005" x2="340.2" y2="383.82000000000005" stroke="#000" stroke-width="1" />
<text x="334.1" y="386.72" font-size="8.1" text-anchor="end" font-weight="normal" >3.0</text>
<line x1="336.8" y1="372.69" x2="340.2" y2="372.69" stroke="#000" stroke-width="1" />
<text x="334.1" y="375.59" font-size="8.1" text-anchor="end" font-weight="normal" >3.5</text>
<line x1="340.2" y1="450.6" x2="340.2" y2="453.8" stroke="#000" stroke-width="1" />
<text x="340.2" y="463.7" font-size="8.2" text-anchor="middle" font-weight="normal" >0</text>
<line x1="375.7" y1="450.6" x2="375.7" y2="453.8" stroke="#000" stroke-width="1" />
<text x="375.7" y="463.7" font-size="8.2" text-anchor="middle" font-weight="normal" >20</text>
<line x1="411.2" y1="450.6" x2="411.2" y2="453.8" stroke="#000" stroke-width="1" />
<text x="411.2" y="463.7" font-size="8.2" text-anchor="middle" font-weight="normal" >40</text>
<line x1="446.7" y1="450.6" x2="446.7" y2="453.8" stroke="#000" stroke-width="1" />
<text x="446.7" y="463.7" font-size="8.2" text-anchor="middle" font-weight="normal" >60</text>
<text x="398.6" y="477.2" font-size="8.9" text-anchor="middle" font-weight="normal" >Time (min)</text>
<text x="0" y="0" font-size="9" text-anchor="middle" font-weight="normal" transform="translate(305.4 409.8) rotate(-90)">VASP-P/tubulin</text>
<text x="0" y="0" font-size="9" text-anchor="middle" font-weight="normal" transform="translate(317.1 410.2) rotate(-90)">fold over control</text>
<polyline points="340.20,428.34 349.07,410.53 366.82,390.72 393.45,392.50 446.70,400.74" fill="none" stroke="#000" stroke-width="1.9" />
<line x1="340.2" y1="417.21000000000004" x2="340.2" y2="428.34000000000003" stroke="#000" stroke-width="0.9" />
<line x1="338.0" y1="417.21000000000004" x2="342.4" y2="417.21000000000004" stroke="#000" stroke-width="0.9" />
<line x1="349.075" y1="406.97040000000004" x2="349.075" y2="410.53200000000004" stroke="#000" stroke-width="0.9" />
<line x1="346.875" y1="406.97040000000004" x2="351.275" y2="406.97040000000004" stroke="#000" stroke-width="0.9" />
<line x1="366.825" y1="379.8132" x2="366.825" y2="390.7206" stroke="#000" stroke-width="0.9" />
<line x1="364.625" y1="379.8132" x2="369.025" y2="379.8132" stroke="#000" stroke-width="0.9" />
<line x1="393.45" y1="388.4946" x2="393.45" y2="392.5014" stroke="#000" stroke-width="0.9" />
<line x1="391.25" y1="388.4946" x2="395.65" y2="388.4946" stroke="#000" stroke-width="0.9" />
<line x1="446.7" y1="388.71720000000005" x2="446.7" y2="400.73760000000004" stroke="#000" stroke-width="0.9" />
<line x1="444.5" y1="388.71720000000005" x2="448.9" y2="388.71720000000005" stroke="#000" stroke-width="0.9" />
<polygon points="337.90,430.14 342.50,430.14 340.20,426.14" fill="#000" stroke="#000" stroke-width="0.9"/>
<polygon points="346.77,412.33 351.38,412.33 349.07,408.33" fill="#000" stroke="#000" stroke-width="0.9"/>
<polygon points="364.52,392.52 369.12,392.52 366.82,388.52" fill="#000" stroke="#000" stroke-width="0.9"/>
<polygon points="391.15,394.30 395.75,394.30 393.45,390.30" fill="#000" stroke="#000" stroke-width="0.9"/>
<polygon points="444.40,402.54 449.00,402.54 446.70,398.54" fill="#000" stroke="#000" stroke-width="0.9"/>
<polyline points="340.20,420.77 349.07,411.65 366.82,390.72 393.45,397.62 446.70,392.28" fill="none" stroke="#000" stroke-width="1.9" stroke-dasharray="3.6 2.4"/>
<line x1="340.2" y1="414.76140000000004" x2="340.2" y2="420.77160000000003" stroke="#000" stroke-width="0.9" />
<line x1="338.0" y1="414.76140000000004" x2="342.4" y2="414.76140000000004" stroke="#000" stroke-width="0.9" />
<line x1="349.075" y1="403.40880000000004" x2="349.075" y2="411.64500000000004" stroke="#000" stroke-width="0.9" />
<line x1="346.875" y1="403.40880000000004" x2="351.275" y2="403.40880000000004" stroke="#000" stroke-width="0.9" />
<line x1="366.825" y1="377.58720000000005" x2="366.825" y2="390.7206" stroke="#000" stroke-width="0.9" />
<line x1="364.625" y1="377.58720000000005" x2="369.025" y2="377.58720000000005" stroke="#000" stroke-width="0.9" />
<line x1="393.45" y1="382.03920000000005" x2="393.45" y2="397.62120000000004" stroke="#000" stroke-width="0.9" />
<line x1="391.25" y1="382.03920000000005" x2="395.65" y2="382.03920000000005" stroke="#000" stroke-width="0.9" />
<line x1="446.7" y1="378.7002" x2="446.7" y2="392.27880000000005" stroke="#000" stroke-width="0.9" />
<line x1="444.5" y1="378.7002" x2="448.9" y2="378.7002" stroke="#000" stroke-width="0.9" />
<circle cx="340.20" cy="420.77" r="1.75" fill="#000" stroke="#000" stroke-width="0.9"/>
<circle cx="349.07" cy="411.65" r="1.75" fill="#000" stroke="#000" stroke-width="0.9"/>
<circle cx="366.82" cy="390.72" r="1.75" fill="#000" stroke="#000" stroke-width="0.9"/>
<circle cx="393.45" cy="397.62" r="1.75" fill="#000" stroke="#000" stroke-width="0.9"/>
<circle cx="446.70" cy="392.28" r="1.75" fill="#000" stroke="#000" stroke-width="0.9"/>
<polyline points="340.20,428.34 349.07,432.79 366.82,432.79 393.45,423.89 446.70,424.11" fill="none" stroke="#000" stroke-width="1.9" />
<polygon points="337.90,430.14 342.50,430.14 340.20,426.14" fill="#fff" stroke="#000" stroke-width="0.9"/>
<polygon points="346.77,434.59 351.38,434.59 349.07,430.59" fill="#fff" stroke="#000" stroke-width="0.9"/>
<polygon points="364.52,434.59 369.12,434.59 366.82,430.59" fill="#fff" stroke="#000" stroke-width="0.9"/>
<polygon points="391.15,425.69 395.75,425.69 393.45,421.69" fill="#fff" stroke="#000" stroke-width="0.9"/>
<polygon points="444.40,425.91 449.00,425.91 446.70,421.91" fill="#fff" stroke="#000" stroke-width="0.9"/>
<polyline points="340.20,421.66 349.07,426.34 366.82,428.34 393.45,430.12 446.70,431.01" fill="none" stroke="#000" stroke-width="1.9" stroke-dasharray="3.6 2.4"/>
<circle cx="340.20" cy="421.66" r="1.75" fill="#fff" stroke="#000" stroke-width="0.9"/>
<circle cx="349.07" cy="426.34" r="1.75" fill="#fff" stroke="#000" stroke-width="0.9"/>
<circle cx="366.82" cy="428.34" r="1.75" fill="#fff" stroke="#000" stroke-width="0.9"/>
<circle cx="393.45" cy="430.12" r="1.75" fill="#fff" stroke="#000" stroke-width="0.9"/>
<circle cx="446.70" cy="431.01" r="1.75" fill="#fff" stroke="#000" stroke-width="0.9"/>
<line x1="328.7" y1="348.7" x2="341.5" y2="348.7" stroke="#000" stroke-width="1.5" />
<polygon points="332.80,350.50 337.40,350.50 335.10,346.50" fill="#000" stroke="#000" stroke-width="0.9"/>
<text x="344.5" y="351.0" font-size="7.6" text-anchor="start" font-weight="normal" >P2Y12 + Tic.</text>
<line x1="328.7" y1="359.2" x2="341.5" y2="359.2" stroke="#000" stroke-width="1.5" stroke-dasharray="3 2.4"/>
<circle cx="335.10" cy="359.20" r="1.75" fill="#000" stroke="#000" stroke-width="0.9"/>
<text x="344.5" y="361.5" font-size="7.6" text-anchor="start" font-weight="normal" >P2Y12 + Tic. + XAC</text>
<line x1="427.3" y1="348.7" x2="440.1" y2="348.7" stroke="#000" stroke-width="1.5" />
<polygon points="431.40,350.50 436.00,350.50 433.70,346.50" fill="#fff" stroke="#000" stroke-width="0.9"/>
<text x="443.1" y="351.0" font-size="7.6" text-anchor="start" font-weight="normal" >pcNEO + Tic.</text>
<line x1="427.3" y1="359.2" x2="440.1" y2="359.2" stroke="#000" stroke-width="1.5" stroke-dasharray="3 2.4"/>
<circle cx="433.70" cy="359.20" r="1.75" fill="#000" stroke="#000" stroke-width="0.9"/>
<text x="443.1" y="361.5" font-size="7.6" text-anchor="start" font-weight="normal" >pcNEO + Tic. + XAC</text>
</svg></div></body></html>
